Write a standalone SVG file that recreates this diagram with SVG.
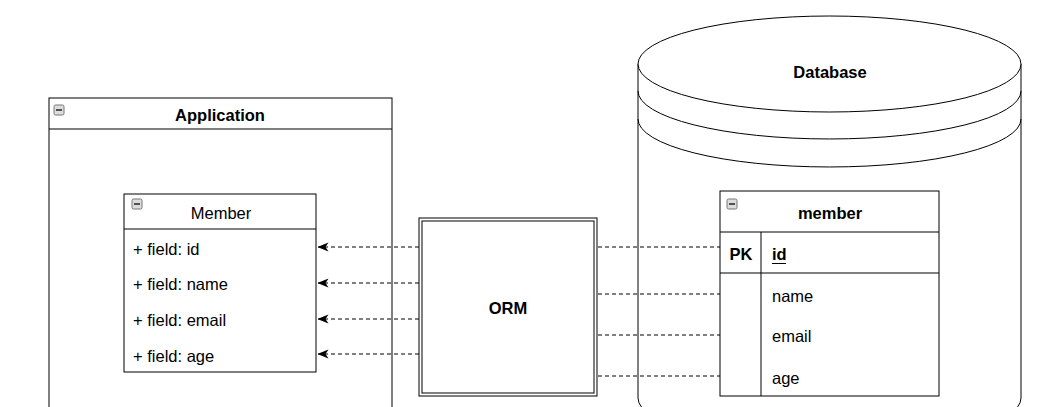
<svg xmlns="http://www.w3.org/2000/svg" width="1061" height="407" viewBox="0 0 1061 407">
<style>
.box{fill:#fff;stroke:#000;stroke-width:1}
.ln{fill:none;stroke:#000;stroke-width:1}
.dash{fill:none;stroke:#000;stroke-width:1;stroke-dasharray:4 3}
.t{font-family:"Liberation Sans",Arial,sans-serif;font-size:16.5px;fill:#000}
.b{font-weight:bold}
.c{text-anchor:middle}
.ico{fill:#dcdcdc;stroke:#777;stroke-width:1}
</style>
<defs>
<marker id="arr" viewBox="0 0 11 10" refX="10.5" refY="5" markerWidth="11" markerHeight="10" markerUnits="userSpaceOnUse" orient="auto">
<path d="M0,0.5 L11,5 L0,9.5 L3,5 Z" fill="#000"/>
</marker>
<g id="minus"><rect class="ico" x="-5" y="-5" width="10" height="10" rx="1.5"/><line x1="-3" y1="0" x2="3" y2="0" stroke="#222" stroke-width="1.5"/></g>
</defs>
<rect width="1061" height="407" fill="#fff"/>

<g id="database">
<path class="box" d="M638,64 L638,398 A191.5,48 0 0 0 1021,398 L1021,64"/>
<ellipse class="box" cx="829.5" cy="64" rx="191.5" ry="48"/>
<path class="ln" d="M638,91 A191.5,48 0 0 0 1021,91"/>
<path class="ln" d="M638,119 A191.5,48 0 0 0 1021,119"/>
<text class="t b c" x="830" y="78">Database</text>
</g>

<g id="application">
<rect class="box" x="49" y="98" width="343" height="330"/>
<line class="ln" x1="49" y1="129" x2="392" y2="129"/>
<use href="#minus" x="59" y="110"/>
<text class="t b c" x="220" y="121">Application</text>
</g>

<g id="member-class">
<rect class="box" x="124" y="194" width="192" height="178"/>
<line class="ln" x1="124" y1="229" x2="316" y2="229"/>
<use href="#minus" x="137" y="204"/>
<text class="t c" x="221" y="219">Member</text>
<text class="t" x="133" y="255">+ field: id</text>
<text class="t" x="133" y="290">+ field: name</text>
<text class="t" x="133" y="326">+ field: email</text>
<text class="t" x="133" y="362">+ field: age</text>
</g>

<g id="orm">
<rect class="box" x="419" y="218" width="178" height="178"/>
<rect class="ln" x="422" y="221" width="172" height="172"/>
<text class="t b c" x="508" y="314">ORM</text>
</g>

<g id="member-table">
<rect class="box" x="720" y="191" width="219" height="205"/>
<line class="ln" x1="720" y1="232" x2="939" y2="232"/>
<line class="ln" x1="720" y1="273" x2="939" y2="273"/>
<line class="ln" x1="761" y1="232" x2="761" y2="396"/>
<use href="#minus" x="732" y="204"/>
<text class="t b c" x="830" y="219">member</text>
<text class="t b c" x="741" y="260">PK</text>
<text class="t b" x="772" y="260">id</text>
<line x1="772" y1="263.5" x2="786" y2="263.5" stroke="#000" stroke-width="1"/>
<text class="t" x="772" y="302">name</text>
<text class="t" x="772" y="342">email</text>
<text class="t" x="772" y="384">age</text>
</g>

<g id="connectors">
<line class="dash" x1="419" y1="247" x2="318" y2="247" marker-end="url(#arr)"/>
<line class="dash" x1="419" y1="283" x2="318" y2="283" marker-end="url(#arr)"/>
<line class="dash" x1="419" y1="319" x2="318" y2="319" marker-end="url(#arr)"/>
<line class="dash" x1="419" y1="354" x2="318" y2="354" marker-end="url(#arr)"/>
<line class="dash" x1="598" y1="247" x2="720" y2="247"/>
<line class="dash" x1="598" y1="294" x2="720" y2="294"/>
<line class="dash" x1="598" y1="335" x2="720" y2="335"/>
<line class="dash" x1="598" y1="376" x2="720" y2="376"/>
</g>
</svg>
